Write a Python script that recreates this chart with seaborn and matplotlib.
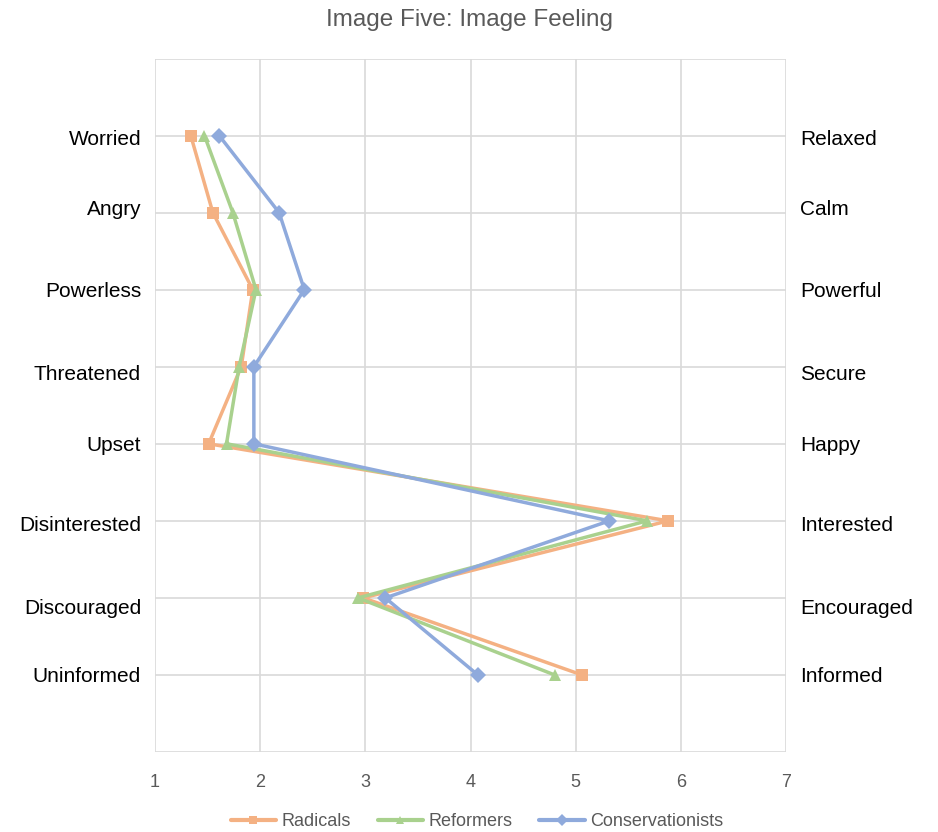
import matplotlib
matplotlib.use("Agg")
import matplotlib.pyplot as plt
import seaborn as sns
import pandas as pd
from matplotlib.transforms import blended_transform_factory

# ---- data ----
left_labels = ["Worried", "Angry", "Powerless", "Threatened", "Upset",
               "Disinterested", "Discouraged", "Uninformed"]
right_labels = ["Relaxed", "Calm", "Powerful", "Secure", "Happy",
                "Interested", "Encouraged", "Informed"]
row_positions = [8, 7, 6, 5, 4, 3, 2, 1]
radicals = [1.34, 1.55, 1.93, 1.82, 1.51, 5.88, 2.98, 5.06]
reformers = [1.47, 1.74, 1.96, 1.80, 1.68, 5.68, 2.93, 4.80]
conservationists = [1.61, 2.18, 2.42, 1.94, 1.94, 5.32, 3.19, 4.07]
groups = ["Radicals", "Reformers", "Conservationists"]
x_ticks = [1, 2, 3, 4, 5, 6, 7]

# small vertical nudges of the side labels (layout only)
label_nudge = [-0.02, 0.07, 0.0, -0.07, 0.0, -0.04, -0.11, 0.0]

colors = ["#F4B183", "#A9D18E", "#8FAADC"]
markers = ["s", "^", "D"]

rows = []
for g, vals in zip(groups, [radicals, reformers, conservationists]):
    for v, p in zip(vals, row_positions):
        rows.append({"group": g, "score": v, "pos": p})
df = pd.DataFrame(rows)

sns.set_theme(style="white")
plt.rcParams["font.family"] = ["Liberation Sans", "DejaVu Sans"]

fig = plt.figure(figsize=(9.38, 8.32), dpi=100)
ax = fig.add_axes([155/938, 1-752/832, (786-155)/938, (752-58.5)/832])

sns.lineplot(data=df, x="score", y="pos", hue="group", style="group",
             hue_order=groups, style_order=groups, palette=colors,
             markers=markers, dashes=False, sort=False, estimator=None,
             linewidth=2.5, markersize=8, markeredgewidth=0, ax=ax,
             legend=True)

ax.set_xlim(1, 7)
ax.set_ylim(0, 9)
ax.set_xticks(x_ticks)
ax.set_xticklabels([str(t) for t in x_ticks], color="#595959", fontsize=13)
ax.set_yticks(range(0, 10))
ax.set_yticklabels([])
ax.tick_params(axis="both", length=0)
ax.tick_params(axis="x", pad=16)
ax.grid(True, color="#D9D9D9", linewidth=1.2)
ax.set_axisbelow(True)
for s in ax.spines.values():
    s.set_visible(False)
ax.set_xlabel("")
ax.set_ylabel("")

trans = blended_transform_factory(ax.transAxes, ax.transData)
for lab, p, d in zip(left_labels, row_positions, label_nudge):
    ax.text(-0.022, p + d, lab, transform=trans, ha="right", va="center_baseline",
            fontsize=15, color="black")
for lab, p, d in zip(right_labels, row_positions, label_nudge):
    ax.text(1.022, p + d, lab, transform=trans, ha="left", va="center_baseline",
            fontsize=15, color="black")

fig.text(0.5, 1-26/832, "Image Five: Image Feeling", ha="center", va="baseline",
         fontsize=17.5, color="#595959")

handles, labels = ax.get_legend_handles_labels()
ax.get_legend().remove()
for h in handles:
    h.set_markersize(6)
    h.set_linewidth(3)
leg = fig.legend(handles, labels, loc="center",
                 bbox_to_anchor=(0.5 + 8/938, 1-822/832),
                 ncol=3, frameon=False, fontsize=13, handlelength=2.5,
                 columnspacing=1.5, handletextpad=0.3)
for t in leg.get_texts():
    t.set_color("#595959")

fig.savefig("out.png", dpi=100)
